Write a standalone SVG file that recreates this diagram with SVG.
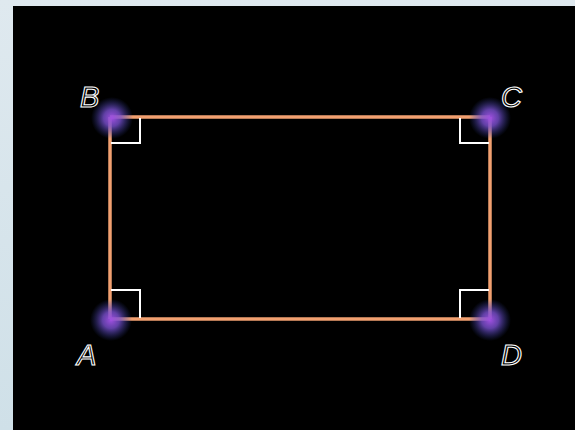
<svg xmlns="http://www.w3.org/2000/svg" width="575" height="430" viewBox="0 0 575 430">
<defs>
<radialGradient id="glow">
<stop offset="0" stop-color="#a050e0" stop-opacity="1"/>
<stop offset="0.4" stop-color="#7a50d0" stop-opacity="0.8"/>
<stop offset="1" stop-color="#3040a0" stop-opacity="0"/>
</radialGradient>
<linearGradient id="bg" x1="0" y1="0" x2="0" y2="1">
<stop offset="0" stop-color="#dfe9ef"/>
<stop offset="1" stop-color="#cfe0e8"/>
</linearGradient>
</defs>
<style>
.side{stroke:#f2a070;stroke-width:3.5;fill:none}
.ra{stroke:#ffffff;stroke-width:2;fill:none}
.lbl{font-family:"Liberation Sans",Arial,sans-serif;font-style:italic;font-size:29px;fill:none;stroke:#ffffff;stroke-width:1.1}
</style>
<rect x="0" y="0" width="575" height="430" fill="url(#bg)"/>
<rect x="13" y="6" width="562" height="424" fill="#000000"/>
<g id="connectors">
<line class="side" x1="110" y1="117" x2="490" y2="117"/>
<line class="side" x1="490" y1="117" x2="490" y2="319"/>
<line class="side" x1="490" y1="319" x2="110" y2="319"/>
<line class="side" x1="110" y1="319" x2="110" y2="117"/>
</g>
<g id="angles">
<polyline class="ra" points="111,143 140,143 140,118"/>
<polyline class="ra" points="489,143 460,143 460,118"/>
<polyline class="ra" points="111,290 140,290 140,318"/>
<polyline class="ra" points="489,290 460,290 460,318"/>
</g>
<g id="B"><circle cx="112" cy="118" r="21" fill="url(#glow)"/><text class="lbl" x="80" y="107">B</text></g>
<g id="C"><circle cx="490" cy="118" r="21" fill="url(#glow)"/><text class="lbl" x="501" y="107">C</text></g>
<g id="A"><circle cx="111" cy="320" r="21" fill="url(#glow)"/><text class="lbl" x="77" y="365">A</text></g>
<g id="D"><circle cx="490" cy="320" r="21" fill="url(#glow)"/><text class="lbl" x="501" y="365">D</text></g>
</svg>
